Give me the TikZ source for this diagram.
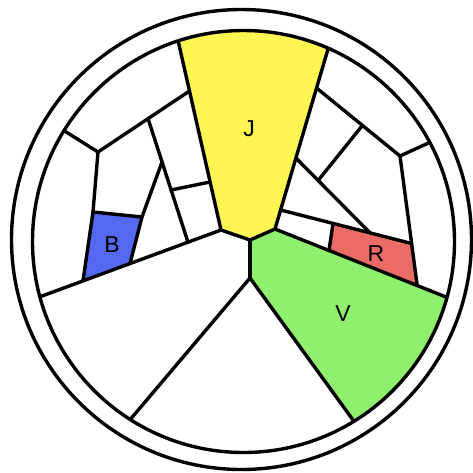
\documentclass[tikz,border=0pt]{standalone}
\usepackage{fontspec}
\setmainfont{Liberation Sans}
\usetikzlibrary{calc}
\definecolor{zone_yellow}{HTML}{FFF652}
\definecolor{zone_green}{HTML}{8EF06C}
\definecolor{zone_blue}{HTML}{5468F2}
\definecolor{zone_red}{HTML}{EB6B66}
\tikzset{wall/.style={line width=3.4pt, line join=round, line cap=round}}
\tikzset{letter/.style={font=\fontsize{23}{26}\selectfont, inner sep=0pt}}

\begin{document}
\begin{tikzpicture}[x=1pt, y=-1pt]
  \useasboundingbox (0,0) rectangle (473,472);
  \coordinate (mid) at (243.5,241.5);
  \coordinate (ring) at (241.5,239.5);

  % middle zones
  \coordinate (yel-left) at (221,230);
  \coordinate (yel-tip) at (250,240);
  \coordinate (yel-right) at (275,229);
  \coordinate (hub) at (250,278);

  % left part
  \coordinate (fork-w) at (98,152);
  \coordinate (b-nw) at (93,212);
  \coordinate (b-ne) at (142,217);
  \coordinate (b-se) at (130,263.6);
  \coordinate (b-sw) at (83,280.9);

  % right part
  \coordinate (fork-e) at (400,156);
  \coordinate (r-nw) at (333,223.4);
  \coordinate (r-ne) at (411.6,243.5);
  \coordinate (r-se) at (417.2,285.5);
  \coordinate (r-sw) at (329,250.5);
  \coordinate (diag-a) at (295.9,158);
  \coordinate (diag-b) at (370,232.9);

  \begin{scope}
    \clip (mid) circle (211pt);
    \fill[zone_yellow] (170,5) -- (yel-left) -- (yel-tip) -- (yel-right) -- (341,5) -- cycle;
    \fill[zone_green] (yel-tip) -- (yel-right) -- (480,310.5) -- (480,480) -- (396.5,480) -- (hub) -- cycle;
    \fill[zone_blue] (b-nw) -- (b-ne) -- (b-se) -- (b-sw) -- cycle;
    \fill[zone_red] (r-nw) -- (r-ne) -- (r-se) -- (r-sw) -- cycle;

    \draw[wall] (170,5) -- (yel-left) -- (yel-tip) -- (yel-right) -- (341,5);
    \draw[wall] (yel-tip) -- (hub);
    \draw[wall] (yel-right) -- (480,310.5);
    \draw[wall] (hub) -- (396.5,480);
    \draw[wall] (hub) -- (79,480);
    \draw[wall] (yel-left) -- (0,311.5);

    \draw[wall] (20,103) -- (fork-w) -- (189.5,91);
    \draw[wall] (b-sw) -- (b-nw) -- (fork-w);
    \draw[wall] (b-nw) -- (b-ne);
    \draw[wall] (b-se) -- (b-ne) -- (162,162);
    \draw[wall] (148,118.5) -- (188,242.2);
    \draw[wall] (171,190) -- (210.1,182);

    \draw[wall] (316.5,88) -- (fork-e) -- (470,124);
    \draw[wall] ($(316.5,88)!0.55!(fork-e)$) -- ($(diag-a)!0.3!(diag-b)$);
    \draw[wall] (diag-a) -- (diag-b);
    \draw[wall] (280.6,210) -- (r-ne);
    \draw[wall] (fork-e) -- (r-se);
    \draw[wall] (r-nw) -- (r-sw);
  \end{scope}

  \draw[wall] (mid) circle (211pt);
  \draw[wall] (ring) circle (230pt);

  \node[letter] (tag-j) at (249,129) {J};
  \node[letter] (tag-b) at (112,244.5) {B};
  \node[letter] (tag-r) at (376,253.5) {R};
  \node[letter] (tag-v) at (343,314) {V};
\end{tikzpicture}
\end{document}
